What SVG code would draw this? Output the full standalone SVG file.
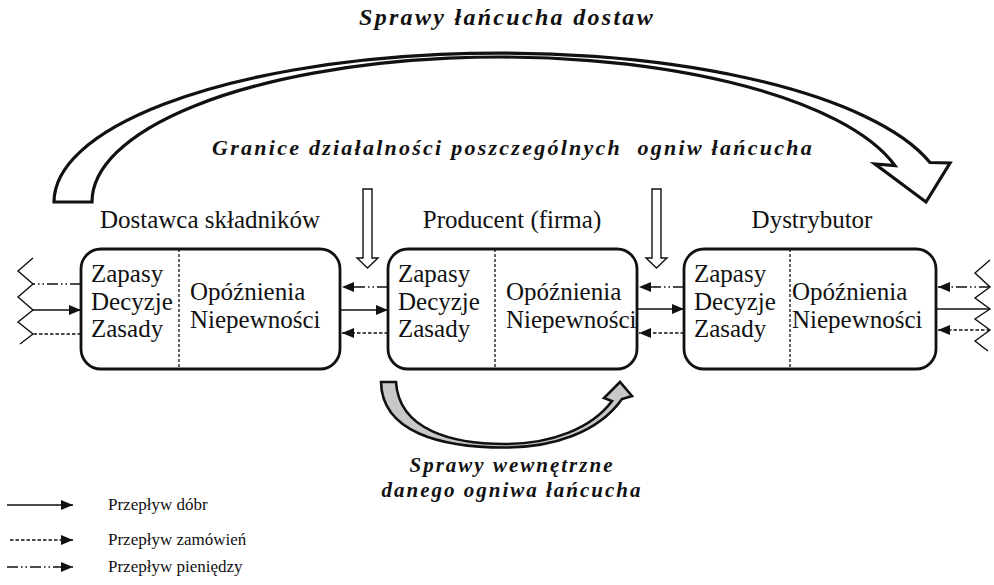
<svg xmlns="http://www.w3.org/2000/svg" width="994" height="585" viewBox="0 0 994 585">
<defs>
<marker id="ah" markerUnits="userSpaceOnUse" markerWidth="13" markerHeight="11" refX="12" refY="5" orient="auto">
<path d="M0,0 L12,5 L0,10 Z" fill="#111"/>
</marker>
<style>
.box{fill:#fff;stroke:#111;stroke-width:2.8}
.div{stroke:#111;stroke-width:1.3;stroke-dasharray:3,2;fill:none}
.t{font-family:"Liberation Serif","Times New Roman",Times,"DejaVu Serif",serif;font-size:25px;fill:#111}
.h{font-family:"Liberation Serif","Times New Roman",Times,"DejaVu Serif",serif;font-size:21px;font-weight:bold;font-style:italic;fill:#111;letter-spacing:2px}
.lg{font-family:"Liberation Serif","Times New Roman",Times,"DejaVu Serif",serif;font-size:17px;fill:#111}
.solid{stroke:#111;stroke-width:1.6;fill:none}
.dash{stroke:#111;stroke-width:1.4;fill:none;stroke-dasharray:3.5,2}
.dd{stroke:#111;stroke-width:1.4;fill:none;stroke-dasharray:11,3,1.5,3,1.5,3}
.zz{stroke:#111;stroke-width:1.4;fill:none}
.hollow{fill:#fff;stroke:#111;stroke-width:1.4}
.bigarrow{fill:#fff;stroke:#111;stroke-width:3.2;stroke-linejoin:miter}
.smallarrow{fill:#c8c8c8;stroke:#111;stroke-width:2.6;stroke-linejoin:miter}
</style>
</defs>

<g id="title-top">
<text class="h" x="507" y="25" text-anchor="middle" style="font-size:24px;letter-spacing:2.3px">Sprawy łańcucha dostaw</text>
</g>

<g id="big-arrow">
<path class="bigarrow" d="M54,202 A446,149 0 0 1 930,162.5 L950,163 L926,202 L875,164 L895,165.7 A408,145 0 0 0 92,202 Z"/>
</g>

<g id="title-boundary">
<text class="h" x="513" y="155" text-anchor="middle" xml:space="preserve" style="font-size:22px;letter-spacing:2.25px">Granice działalności poszczególnych  ogniw łańcucha</text>
</g>

<g id="boundary-arrow-1">
<polygon class="hollow" points="363,189 372,189 372,258 378,258 367.5,268 357,258 363,258"/>
</g>
<g id="boundary-arrow-2">
<polygon class="hollow" points="652,189 661,189 661,258 667,258 656.5,268 646,258 652,258"/>
</g>

<g id="node-dostawca">
<text class="t" x="210" y="228" text-anchor="middle">Dostawca składników</text>
<rect class="box" x="81" y="249" width="259" height="120" rx="20" ry="20"/>
<line class="div" x1="179" y1="249" x2="179" y2="369"/>
<text class="t" x="91" y="282">Zapasy</text>
<text class="t" x="91" y="310">Decyzje</text>
<text class="t" x="91" y="337">Zasady</text>
<text class="t" x="190" y="300">Opóźnienia</text>
<text class="t" x="190" y="328">Niepewności</text>
</g>

<g id="node-producent">
<text class="t" x="512" y="228" text-anchor="middle">Producent (firma)</text>
<rect class="box" x="388" y="249" width="249" height="120" rx="20" ry="20"/>
<line class="div" x1="495" y1="249" x2="495" y2="369"/>
<text class="t" x="398" y="282">Zapasy</text>
<text class="t" x="398" y="310">Decyzje</text>
<text class="t" x="398" y="337">Zasady</text>
<text class="t" x="506" y="300">Opóźnienia</text>
<text class="t" x="506" y="328">Niepewności</text>
</g>

<g id="node-dystrybutor">
<text class="t" x="812" y="228" text-anchor="middle">Dystrybutor</text>
<rect class="box" x="684" y="249" width="252" height="120" rx="20" ry="20"/>
<line class="div" x1="790" y1="249" x2="790" y2="369"/>
<text class="t" x="694" y="282">Zapasy</text>
<text class="t" x="694" y="310">Decyzje</text>
<text class="t" x="694" y="337">Zasady</text>
<text class="t" x="792" y="300">Opóźnienia</text>
<text class="t" x="792" y="328">Niepewności</text>
</g>

<g id="connectors">
<polyline class="zz" points="33,258 18,271 33,284 18,297 33,310 18,322 33,334 20,344"/>
<line class="dd" x1="81" y1="284" x2="33" y2="284"/>
<line class="solid" x1="33" y1="310" x2="81" y2="310" marker-end="url(#ah)"/>
<line class="dash" x1="81" y1="334" x2="33" y2="334"/>

<line class="dd" x1="388" y1="287" x2="342" y2="287" marker-end="url(#ah)"/>
<line class="solid" x1="340" y1="310" x2="388" y2="310" marker-end="url(#ah)"/>
<line class="dash" x1="388" y1="333" x2="342" y2="333" marker-end="url(#ah)"/>

<line class="dd" x1="684" y1="287" x2="639" y2="287" marker-end="url(#ah)"/>
<line class="solid" x1="637" y1="309" x2="684" y2="309" marker-end="url(#ah)"/>
<line class="dash" x1="684" y1="333" x2="639" y2="333" marker-end="url(#ah)"/>

<polyline class="zz" points="990,260 975,273 990,287 975,298 990,309 975,319 990,330 975,341 988,351"/>
<line class="dd" x1="990" y1="287" x2="938" y2="287" marker-end="url(#ah)"/>
<line class="solid" x1="936" y1="309" x2="990" y2="309"/>
<line class="dash" x1="990" y1="330" x2="938" y2="330" marker-end="url(#ah)"/>
</g>

<g id="internal-arrow">
<path class="smallarrow" d="M381,382 L396,382 C399,431 454,444 505,444 C552,444 592,428 612,401 L604,398 L620,382 L632,396 L622,399 C598,433 552,447.5 505,447.5 C440,447.5 382,432 381,382 Z"/>
</g>

<g id="title-internal">
<text class="h" x="512" y="472" text-anchor="middle">Sprawy wewnętrzne</text>
<text class="h" x="512" y="497" text-anchor="middle">danego ogniwa łańcucha</text>
</g>

<g id="legend">
<line class="solid" x1="7" y1="505" x2="73" y2="505" marker-end="url(#ah)"/>
<text class="lg" x="108" y="510">Przepływ dóbr</text>
<line class="dash" x1="10" y1="540" x2="73" y2="540" marker-end="url(#ah)"/>
<text class="lg" x="108" y="545">Przepływ zamówień</text>
<line class="dd" x1="7" y1="567" x2="73" y2="567" marker-end="url(#ah)"/>
<text class="lg" x="108" y="572">Przepływ pieniędzy</text>
</g>
</svg>
